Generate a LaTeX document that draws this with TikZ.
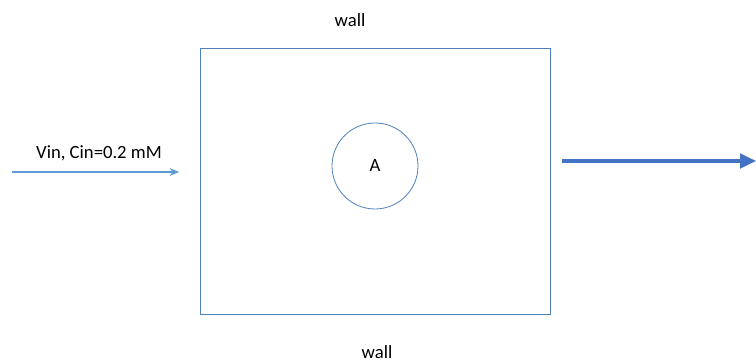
\documentclass[tikz,border=0pt]{standalone}
\usepackage{fontspec}
\setmainfont{Carlito}
\usetikzlibrary{arrows.meta}
\definecolor{boxblue}{HTML}{4F81BD}
\definecolor{inblue}{HTML}{5B9BD5}
\definecolor{outblue}{HTML}{4472C4}
\tikzset{
  lbl/.style={font=\fontsize{14}{16}\selectfont,inner sep=0pt},
  wallbox/.style={draw=boxblue,line width=0.6pt,minimum width=262.5pt,minimum height=199.5pt,inner sep=0pt},
  species/.style={circle,draw=boxblue,line width=0.6pt,minimum size=64.5pt,inner sep=0pt,font=\fontsize{14}{16}\selectfont}
}
\begin{document}
\begin{tikzpicture}[x=0.75pt,y=-0.75pt]
  \useasboundingbox (0,0) rectangle (756,363);
  \node[wallbox] (reactor) at (375,181) {};
  \node[species] (a) at (375,166) {A};
  \node[lbl] (walltop) at (350,20) {wall};
  \node[lbl] (wallbot) at (377,352) {wall};
  \node[lbl] (inlabel) at (99,153) {Vin, Cin=0.2 mM};
  \coordinate (instart) at (12,172);
  \coordinate (inend) at (179,172);
  \coordinate (outstart) at (562,161);
  \coordinate (outend) at (756,161);
  \draw[inblue,line width=1.2pt,-{Stealth[length=7pt,width=6pt]}] (instart) -- (inend);
  \draw[outblue,line width=2.3pt,-{Triangle[length=12pt,width=11pt]}] (outstart) -- (outend);
\end{tikzpicture}
\end{document}
